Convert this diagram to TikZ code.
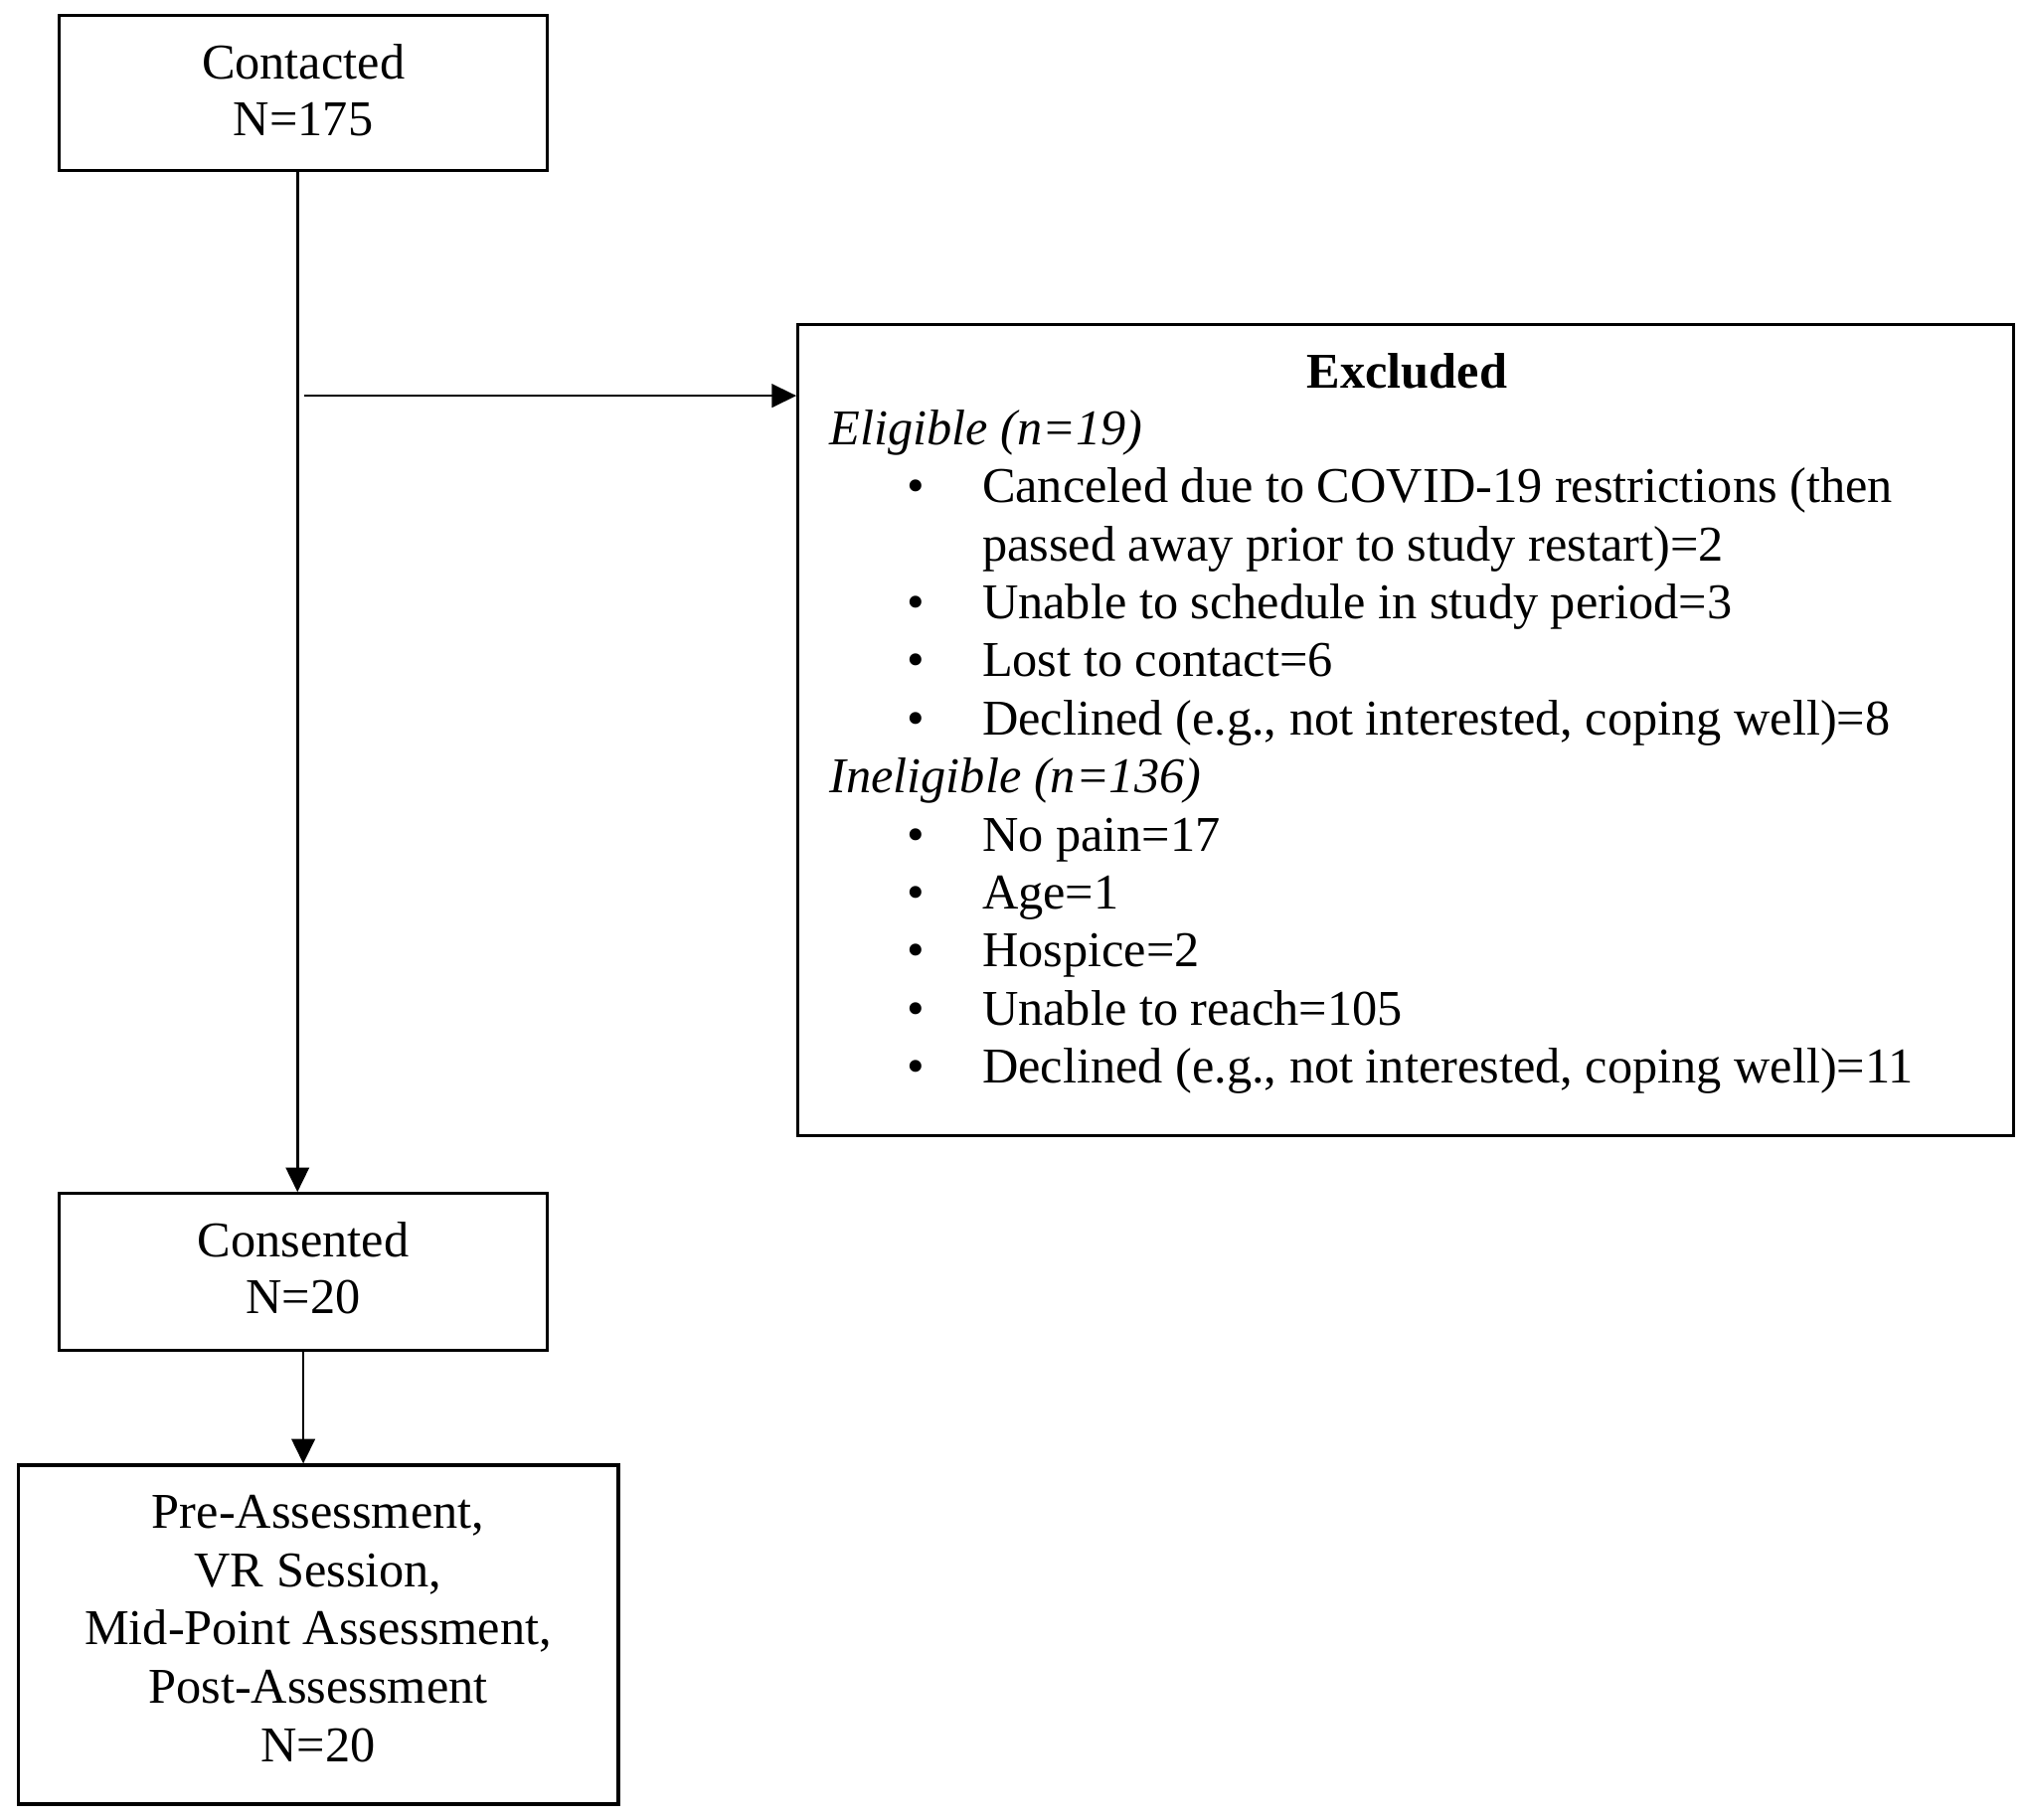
\documentclass[tikz,border=0pt]{standalone}
\usepackage{fontspec}
\setmainfont{Liberation Serif}
\usetikzlibrary{arrows.meta,calc}
\newcommand{\figfont}{\fontsize{19.35pt}{22.4pt}\selectfont}
\begin{document}
\begin{tikzpicture}[x=0.5pt,y=-0.5pt,
  box/.style={draw, line width=1.25pt, inner sep=0pt},
  ctr/.style={inner sep=0pt, anchor=base, font=\figfont},
  lft/.style={inner sep=0pt, anchor=base west, font=\figfont},
  conn/.style={line width=1pt, -{Triangle[length=9.5pt,width=9pt]}}]
\useasboundingbox (0,0) rectangle (1568,1407);
% boxes
\node[box, minimum width=188.5pt, minimum height=60pt] (contacted) at (234.5,72) {};
\node[box, minimum width=470pt, minimum height=313.5pt] (excluded) at (1087,564.5) {};
\node[box, minimum width=188.5pt, minimum height=60.5pt] (consented) at (234.5,983.5) {};
\node[box, minimum width=232pt, minimum height=131pt] (final) at (246,1264) {};
% box texts
\node[ctr] (c1) at (234.5,61) {Contacted};
\node[ctr] (c2) at (234.5,105) {N=175};
\node[ctr] (s1) at (234.5,972) {Consented};
\node[ctr] (s2) at (234.5,1016) {N=20};
\node[ctr] (f1) at (246,1182) {Pre-Assessment,};
\node[ctr] (f2) at (246,1227) {VR Session,};
\node[ctr] (f3) at (246,1272) {Mid-Point Assessment,};
\node[ctr] (f4) at (246,1317) {Post-Assessment};
\node[ctr] (f5) at (246,1362) {N=20};
% excluded texts
\node[ctr] (e0) at (1088,300) {\bfseries Excluded};
\node[lft] (eh1) at (641,344) {\itshape Eligible (n=19)};
\node[ctr] (b1) at (708,388.9) {\textbullet};
\node[lft] (t1) at (759,388.9) {Canceled due to COVID-19 restrictions (then};
\node[lft] (t1b) at (759,433.7) {passed away prior to study restart)=2};
\node[ctr] (b2) at (708,478.6) {\textbullet};
\node[lft] (t2) at (759,478.6) {Unable to schedule in study period=3};
\node[ctr] (b3) at (708,523.4) {\textbullet};
\node[lft] (t3) at (759,523.4) {Lost to contact=6};
\node[ctr] (b4) at (708,568.3) {\textbullet};
\node[lft] (t4) at (759,568.3) {Declined (e.g., not interested, coping well)=8};
\node[lft] (eh2) at (641,613.1) {\itshape Ineligible (n=136)};
\node[ctr] (b5) at (708,658) {\textbullet};
\node[lft] (t5) at (759,658) {No pain=17};
\node[ctr] (b6) at (708,702.8) {\textbullet};
\node[lft] (t6) at (759,702.8) {Age=1};
\node[ctr] (b7) at (708,747.7) {\textbullet};
\node[lft] (t7) at (759,747.7) {Hospice=2};
\node[ctr] (b8) at (708,792.5) {\textbullet};
\node[lft] (t8) at (759,792.5) {Unable to reach=105};
\node[ctr] (b9) at (708,837.4) {\textbullet};
\node[lft] (t9) at (759,837.4) {Declined (e.g., not interested, coping well)=11};
% connectors
\coordinate (branch) at (235,306);
\draw[conn] ($(contacted.south)+(-4.5,0)$) -- ($(consented.north)+(-4.5,0)$);
\draw[conn] (branch) -- (excluded.west |- branch);
\draw[conn] (consented.south) -- (final.north -| consented.south);
\end{tikzpicture}
\end{document}
